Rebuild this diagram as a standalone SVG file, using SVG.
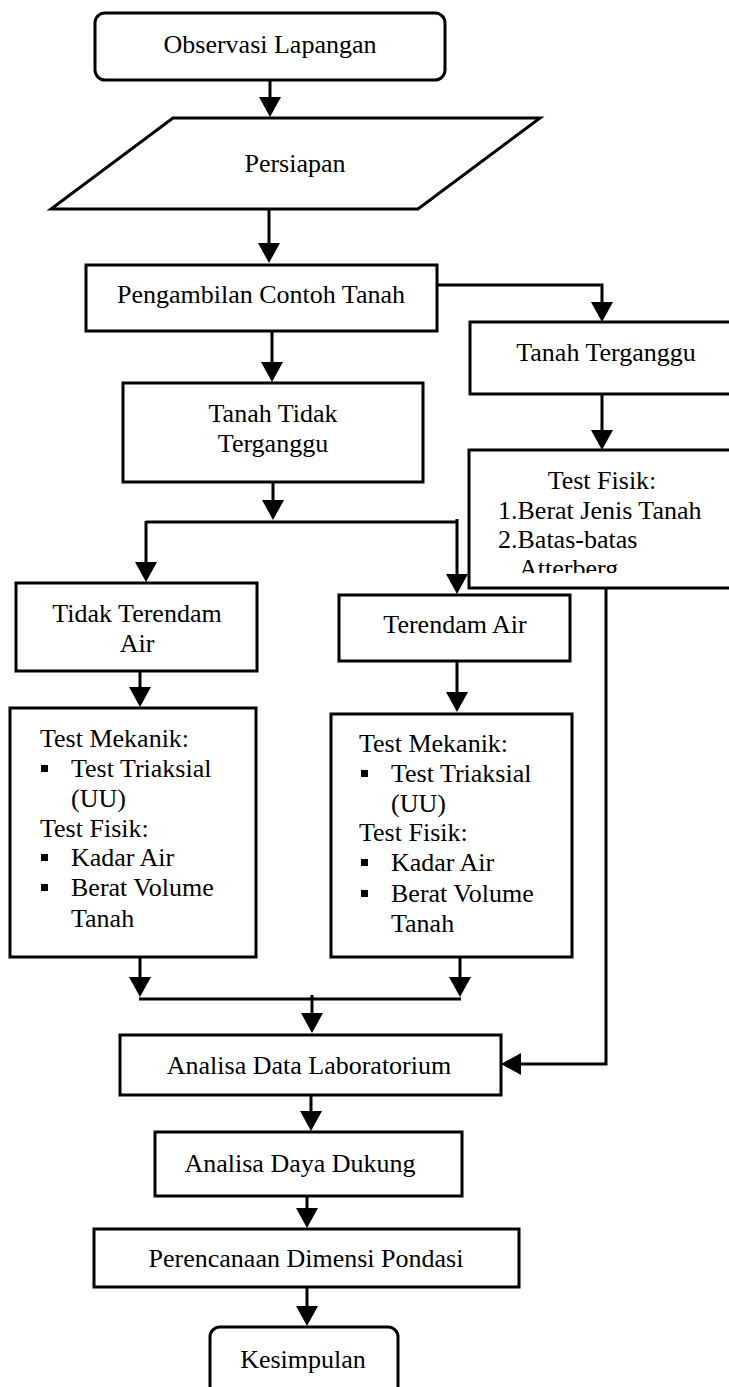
<svg xmlns="http://www.w3.org/2000/svg" width="729" height="1387" viewBox="0 0 729 1387">
<style>
.box{fill:#fff;stroke:#000;stroke-width:3}
.t{font-family:"Liberation Serif","Times New Roman",serif;font-size:26px;fill:#000}
.m{text-anchor:middle}
.c{fill:none;stroke:#000;stroke-width:3}
.b{fill:#000}
</style>
<defs>
<marker id="ah" viewBox="0 0 20 22" refX="10" refY="11" markerWidth="20" markerHeight="22" markerUnits="userSpaceOnUse" orient="auto">
<path d="M0,0 L20,11 L0,22 z" fill="#000"/>
</marker>
<clipPath id="fisikClip"><rect x="469" y="450" width="270" height="123"/></clipPath>
</defs>
<rect width="729" height="1387" fill="#fff"/>

<g id="connectors">
<line class="c" x1="270" y1="80" x2="270" y2="107" marker-end="url(#ah)"/>
<line class="c" x1="269" y1="209" x2="269" y2="253" marker-end="url(#ah)"/>
<polyline class="c" points="437,285 602,285 602,312" marker-end="url(#ah)"/>
<line class="c" x1="602" y1="394" x2="602" y2="440" marker-end="url(#ah)"/>
<line class="c" x1="272" y1="331" x2="272" y2="372" marker-end="url(#ah)"/>
<line class="c" x1="273" y1="482" x2="273" y2="510" marker-end="url(#ah)"/>
<line class="c" x1="146" y1="522" x2="457" y2="522"/>
<line class="c" x1="146" y1="521" x2="146" y2="572" marker-end="url(#ah)"/>
<line class="c" x1="457" y1="519" x2="457" y2="584" marker-end="url(#ah)"/>
<line class="c" x1="140" y1="671" x2="140" y2="697" marker-end="url(#ah)"/>
<line class="c" x1="457" y1="661" x2="457" y2="702" marker-end="url(#ah)"/>
<polyline class="c" points="606,588 606,1064 511,1064" marker-end="url(#ah)"/>
<line class="c" x1="140" y1="957" x2="140" y2="987" marker-end="url(#ah)"/>
<line class="c" x1="460" y1="957" x2="460" y2="987" marker-end="url(#ah)"/>
<line class="c" x1="139" y1="999" x2="461" y2="999"/>
<line class="c" x1="312" y1="995" x2="312" y2="1023" marker-end="url(#ah)"/>
<line class="c" x1="311" y1="1095" x2="311" y2="1121" marker-end="url(#ah)"/>
<line class="c" x1="307" y1="1196" x2="307" y2="1218" marker-end="url(#ah)"/>
<line class="c" x1="307" y1="1287" x2="307" y2="1316" marker-end="url(#ah)"/>
</g>

<g id="observasi">
<rect class="box" x="95" y="13" width="350" height="67" rx="10"/>
<text class="t m" x="270" y="53">Observasi Lapangan</text>
</g>
<g id="persiapan">
<polygon class="box" points="173,118 540,118 418,209 51,209"/>
<text class="t m" x="295" y="172">Persiapan</text>
</g>
<g id="pengambilan">
<rect class="box" x="86" y="265" width="351" height="66"/>
<text class="t m" x="261" y="303">Pengambilan Contoh Tanah</text>
</g>
<g id="tanah-terganggu">
<rect class="box" x="470" y="322" width="270" height="72"/>
<text class="t m" x="606" y="361">Tanah Terganggu</text>
</g>
<g id="test-fisik-kanan">
<rect class="box" x="469" y="450" width="270" height="138"/>
<text class="t m" x="602" y="489">Test Fisik:</text>
<text class="t" x="498" y="519">1.Berat Jenis Tanah</text>
<text class="t" x="498" y="548">2.Batas-batas</text>
<text class="t" x="519" y="577" clip-path="url(#fisikClip)">Atterberg</text>
</g>
<g id="tanah-tidak-terganggu">
<rect class="box" x="123" y="383" width="300" height="99"/>
<text class="t m" x="273" y="422">Tanah Tidak</text>
<text class="t m" x="273" y="452">Terganggu</text>
</g>
<g id="tidak-terendam">
<rect class="box" x="16" y="583" width="241" height="88"/>
<text class="t m" x="137" y="622">Tidak Terendam</text>
<text class="t m" x="137" y="652">Air</text>
</g>
<g id="terendam">
<rect class="box" x="339" y="595" width="231" height="66"/>
<text class="t m" x="455" y="633">Terendam Air</text>
</g>
<g id="test-kiri">
<rect class="box" x="10" y="708" width="246" height="249"/>
<text class="t" x="40" y="747">Test Mekanik:</text>
<rect class="b" x="41" y="765" width="7" height="7"/>
<text class="t" x="71" y="777">Test Triaksial</text>
<text class="t" x="71" y="807">(UU)</text>
<text class="t" x="40" y="837">Test Fisik:</text>
<rect class="b" x="41" y="854" width="7" height="7"/>
<text class="t" x="71" y="866">Kadar Air</text>
<rect class="b" x="41" y="884" width="7" height="7"/>
<text class="t" x="71" y="896">Berat Volume</text>
<text class="t" x="71" y="927">Tanah</text>
</g>
<g id="test-kanan">
<rect class="box" x="331" y="714" width="241" height="243"/>
<text class="t" x="359" y="752">Test Mekanik:</text>
<rect class="b" x="361" y="770" width="7" height="7"/>
<text class="t" x="391" y="782">Test Triaksial</text>
<text class="t" x="391" y="812">(UU)</text>
<text class="t" x="359" y="841">Test Fisik:</text>
<rect class="b" x="361" y="859" width="7" height="7"/>
<text class="t" x="391" y="871">Kadar Air</text>
<rect class="b" x="361" y="890" width="7" height="7"/>
<text class="t" x="391" y="902">Berat Volume</text>
<text class="t" x="391" y="932">Tanah</text>
</g>
<g id="analisa-data">
<rect class="box" x="120" y="1035" width="381" height="60"/>
<text class="t m" x="309" y="1074">Analisa Data Laboratorium</text>
</g>
<g id="analisa-daya">
<rect class="box" x="155" y="1132" width="307" height="64"/>
<text class="t m" x="300" y="1172">Analisa Daya Dukung</text>
</g>
<g id="perencanaan">
<rect class="box" x="94" y="1229" width="425" height="58"/>
<text class="t m" x="306" y="1267">Perencanaan Dimensi Pondasi</text>
</g>
<g id="kesimpulan">
<rect class="box" x="210" y="1327" width="188" height="72" rx="10"/>
<text class="t m" x="303" y="1368">Kesimpulan</text>
</g>
</svg>
